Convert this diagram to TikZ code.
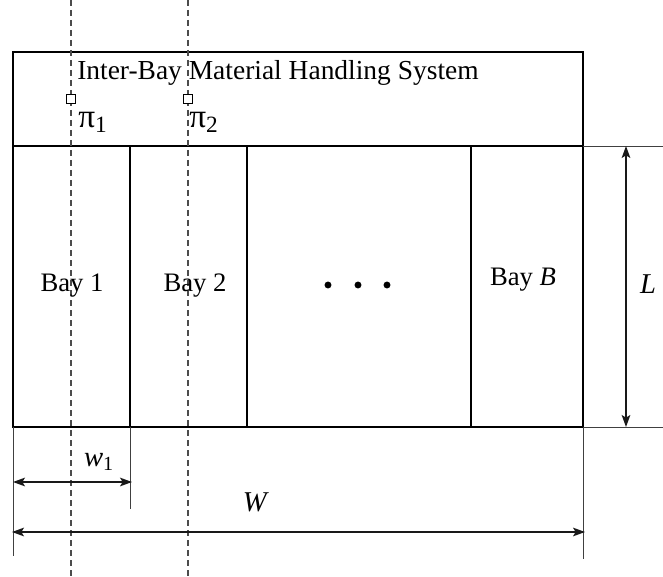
\documentclass[tikz,border=0pt]{standalone}
\usepackage{fontspec}
\setmainfont{Liberation Serif}
\usetikzlibrary{arrows.meta}
\begin{document}
\begin{tikzpicture}[x=0.75pt,y=-0.75pt,
  box/.style={line width=1.6pt,black},
  dimline/.style={line width=0.9pt,black!90},
  extline/.style={line width=0.7pt,black!75},
  guide/.style={line width=0.8pt,black!70,dash pattern=on 4.5pt off 3pt},
  dimarrow/.style={dimline,{Stealth[length=9pt,width=6.5pt,inset=2pt]}-{Stealth[length=9pt,width=6.5pt,inset=2pt]}},
  lbl/.style={font=\fontsize{20}{23}\selectfont,inner sep=0pt},
  big/.style={font=\fontsize{21.5}{24}\selectfont,inner sep=0pt},
  dot/.style={circle,fill=black,minimum size=5.2pt,inner sep=0pt},
  marker/.style={draw,line width=1.1pt,minimum size=6.5pt,inner sep=0pt,fill=white}]
\useasboundingbox (0,0) rectangle (663,577);
% corners
\coordinate (tl) at (13,52);
\coordinate (tr) at (583,52);
\coordinate (hl) at (13,146);
\coordinate (hr) at (583,146);
\coordinate (bl) at (13,427);
\coordinate (br) at (583,427);
% dashed guides
\coordinate (g1t) at (71,0);
\coordinate (g1b) at (71,577);
\coordinate (g2t) at (188,0);
\coordinate (g2b) at (188,577);
% bays
\draw[box] (tl) rectangle (br);
\draw[box] (hl) -- (hr);
\coordinate (d1t) at (130,146); \coordinate (d1b) at (130,427);
\coordinate (d2t) at (247,146); \coordinate (d2b) at (247,427);
\coordinate (d3t) at (471,146); \coordinate (d3b) at (471,427);
\draw[box] (d1t) -- (d1b);
\draw[box] (d2t) -- (d2b);
\draw[box] (d3t) -- (d3b);
\draw[guide] (g1t) -- (g1b);
\draw[guide] (g2t) -- (g2b);
% title
\node[font=\fontsize{20.6}{24}\selectfont,inner sep=0pt,anchor=west] (title) at (77,73) {Inter-Bay Material Handling System};
% markers
\node[marker] (m1) at (71,99) {};
\node[marker] (m2) at (188,99) {};
\node[font=\fontsize{25}{28}\selectfont,inner sep=0pt,anchor=west] (p1) at (78,122) {π\textsubscript{1}};
\node[font=\fontsize{25}{28}\selectfont,inner sep=0pt,anchor=west] (p2) at (189,122) {π\textsubscript{2}};
% bay labels
\node[lbl] (bay1) at (72,286) {Bay 1};
\node[lbl] (bay2) at (195,286) {Bay 2};
\node[lbl] (bayB) at (523,280) {Bay \textit{B}};
\node[dot] (dt1) at (328,285) {};
\node[dot] (dt2) at (358,285) {};
\node[dot] (dt3) at (387,285) {};
% L dimension
\coordinate (Le1) at (663,146);
\coordinate (Le2) at (663,427);
\draw[extline] (hr) -- (Le1);
\draw[extline] (br) -- (Le2);
\coordinate (La) at (626,146);
\coordinate (Lb) at (626,427);
\draw[dimarrow] (La) -- (Lb);
\node[big] (L) at (648,284) {\textit{L}};
% w1 and W dimensions
\coordinate (e0) at (13,556);
\coordinate (e1) at (130,509);
\coordinate (e2) at (583,559);
\draw[extline] (bl) -- (e0);
\draw[extline] (d1b) -- (e1);
\draw[extline] (br) -- (e2);
\coordinate (wa) at (13,482);
\coordinate (wb) at (132,482);
\draw[dimarrow] (wa) -- (wb);
\node[big] (w1) at (99,462) {\textit{w}\textsubscript{1}};
\coordinate (Wa) at (12,532);
\coordinate (Wb) at (585,532);
\draw[dimarrow] (Wa) -- (Wb);
\node[big] (W) at (256,502) {\textit{W}};
\end{tikzpicture}
\end{document}
